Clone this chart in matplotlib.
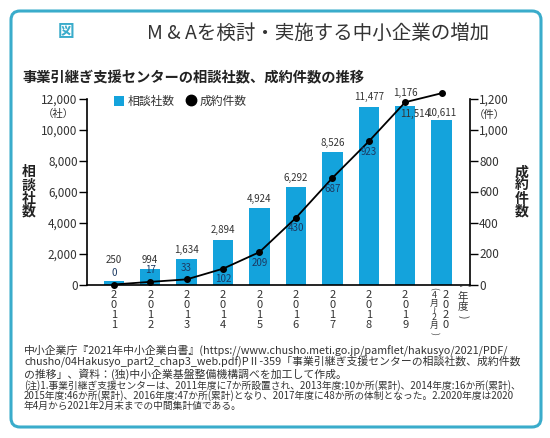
import matplotlib

matplotlib.use("Agg")
import matplotlib.pyplot as plt
from matplotlib.lines import Line2D
from matplotlib.patches import FancyBboxPatch, Patch
from matplotlib.ticker import FuncFormatter, MultipleLocator
from matplotlib.transforms import ScaledTranslation

plt.rcParams["font.family"] = ["Noto Sans CJK JP", "DejaVu Sans"]

# data
years = ["2011", "2012", "2013", "2014", "2015", "2016", "2017", "2018", "2019", "2020"]
consult_counts = [250, 994, 1634, 2894, 4924, 6292, 8526, 11477, 11514, 10611]
deal_counts = [0, 17, 33, 102, 209, 430, 687, 923, 1176, 1234]

# label placement tweaks (points)
consult_label_offsets = [(0, 11.5), (0, 3), (0, 3), (0, 3), (0, 3), (0, 3), (0, 3), (0, 3), (7, -6), (0, 1.5)]
deal_label_dy = [8, 8.5, 8.5, -7.5, -7.5, -7.5, -8, -7.5, 7, 7]

BAR_COLOR = "#14a3dc"
BORDER_COLOR = "#3aaccb"
TEXT_COLOR = "#333333"
NAVY = "#1c3a63"

W, H = 550, 438


def px(x, y):
    return x / W, 1 - y / H


def vertical_label(fig, x, y_top, y_bottom, body, fontsize, linespacing):
    # brackets turned sideways above and below a stacked body of characters
    fig.text(*px(x, y_top), "(", fontsize=fontsize, color=TEXT_COLOR,
             ha="center", va="center", rotation=270)
    fig.text(*px(x, y_bottom), ")", fontsize=fontsize, color=TEXT_COLOR,
             ha="center", va="center", rotation=270)
    fig.text(*px(x, (y_top + y_bottom) / 2), "\n".join(body), fontsize=fontsize,
             color=TEXT_COLOR, ha="center", va="center", linespacing=linespacing)


fig = plt.figure(figsize=(W / 100, H / 100), dpi=100)

# outer rounded frame
frame = FancyBboxPatch(
    (0.11, 0.11), 5.30, 4.16,
    boxstyle="round,pad=0,rounding_size=0.09",
    transform=fig.dpi_scale_trans, facecolor="white",
    edgecolor=BORDER_COLOR, linewidth=2.2, zorder=-5,
)
fig.patches.append(frame)

fig.text(*px(66, 32), "図", fontsize=12, color=BORDER_COLOR, ha="center", va="center", fontweight="bold")
fig.text(*px(147, 33), "M & Aを検討・実施する中小企業の増加", fontsize=14, color=TEXT_COLOR,
         ha="left", va="center")
fig.text(*px(22, 78), "事業引継ぎ支援センターの相談社数、成約件数の推移", fontsize=10.3,
         fontweight="bold", color="#222222", ha="left", va="center")

left, top = px(86.7, 98.5)
right, bottom = px(470, 284.5)
ax = fig.add_axes([left, bottom, right - left, top - bottom])
ax.patch.set_alpha(0)

x = list(range(len(years)))
ax.bar(x, consult_counts, width=0.56, color=BAR_COLOR, zorder=2)
ax.set_xlim(-0.744, len(years) - 1 + 0.78)
ax.set_ylim(0, 12000)
ax.yaxis.set_major_locator(MultipleLocator(2000))
ax.yaxis.set_major_formatter(FuncFormatter(lambda v, _: f"{int(v):,}"))
ax.tick_params(axis="y", direction="out", length=5.5, width=1, pad=1, labelsize=8.5, labelcolor=TEXT_COLOR)
ax.set_xticks(x)
ax.set_xticklabels(["\n".join(y) for y in years], fontsize=8, color=TEXT_COLOR, linespacing=1.0)
ax.tick_params(axis="x", length=0, pad=4)
for side in ("top", "right"):
    ax.spines[side].set_visible(False)
for side in ("left", "bottom"):
    ax.spines[side].set_linewidth(1.2)

# shift the 2020 label a little right
last_lbl = ax.get_xticklabels()[-1]
last_lbl.set_transform(last_lbl.get_transform() + ScaledTranslation(3 / 72, 0, fig.dpi_scale_trans))

for i, v in enumerate(consult_counts):
    dx, dy = consult_label_offsets[i]
    ax.annotate(f"{v:,}", (i, v), xytext=(dx, dy), textcoords="offset points",
                ha="center", va="bottom" if dy > 0 else "center",
                fontsize=7, color=TEXT_COLOR, zorder=5)

ax2 = ax.twinx()
ax2.set_ylim(0, 1200)
ax2.yaxis.set_major_locator(MultipleLocator(200))
ax2.yaxis.set_major_formatter(FuncFormatter(lambda v, _: f"{int(v):,}"))
ax2.tick_params(axis="y", direction="out", length=5.5, width=1, pad=1, labelsize=8.5, labelcolor=TEXT_COLOR)
for side in ("top", "left", "bottom"):
    ax2.spines[side].set_visible(False)
ax2.spines["right"].set_linewidth(1.2)
ax2.plot(x, deal_counts, color="black", linewidth=1.3, marker="o", markersize=4, clip_on=False, zorder=4)

for i, v in enumerate(deal_counts):
    color = NAVY if i < 8 else TEXT_COLOR
    ax2.annotate(f"{v:,}", (i, v), xytext=(0, deal_label_dy[i]), textcoords="offset points",
                 ha="center", va="center", fontsize=7, color=color, zorder=6)

# legend
handles = [
    Patch(facecolor=BAR_COLOR, edgecolor="none"),
    Line2D([], [], marker="o", color="black", linestyle="none", markersize=7.5),
]
ax2.legend(handles, ["相談社数", "成約件数"], ncol=2, loc="center left",
           bbox_to_anchor=(0.07, 0.985), frameon=False, fontsize=8.5,
           borderpad=0, borderaxespad=0, handlelength=0.9, handleheight=0.9,
           handletextpad=0.3, columnspacing=0.9, labelcolor=TEXT_COLOR)

# unit labels and axis titles
fig.text(*px(58, 114), "（社）", fontsize=7.5, color=TEXT_COLOR, ha="center", va="center")
fig.text(*px(489, 115), "（件）", fontsize=7.5, color=TEXT_COLOR, ha="center", va="center")
fig.text(*px(29, 192), "相\n談\n社\n数", fontsize=10, fontweight="bold", color="#222222",
         ha="center", va="center", linespacing=0.92)
fig.text(*px(522, 192), "成\n約\n件\n数", fontsize=10, fontweight="bold", color="#222222",
         ha="center", va="center", linespacing=0.92)
vertical_label(fig, 434, 288, 333, ["4", "月", "≀", "2", "月"], 6.3, 0.78)
vertical_label(fig, 463, 286, 317, ["年", "度"], 7.5, 0.9)

# source notes
notes_big = [
    "中小企業庁『2021年中小企業白書』(https://www.chusho.meti.go.jp/pamflet/hakusyo/2021/PDF/",
    "chusho/04Hakusyo_part2_chap3_web.pdf)PⅡ-359「事業引継ぎ支援センターの相談社数、成約件数",
    "の推移」、資料：(独)中小企業基盤整備機構調べを加工して作成。",
]
notes_small = [
    "(注)1.事業引継ぎ支援センターは、2011年度に7か所設置され、2013年度:10か所(累計)、2014年度:16か所(累計)、",
    "2015年度:46か所(累計)、2016年度:47か所(累計)となり、2017年度に48か所の体制となった。2.2020年度は2020",
    "年4月から2021年2月末までの中間集計値である。",
]
for line, yy in zip(notes_big, [350, 362.5, 374.5]):
    fig.text(*px(24, yy), line, fontsize=7.8, color=TEXT_COLOR, ha="left", va="center")
for line, yy in zip(notes_small, [385.5, 395.5, 405.5]):
    fig.text(*px(24, yy), line, fontsize=7.0, color=TEXT_COLOR, ha="left", va="center")

fig.savefig("out.png", dpi=100)
